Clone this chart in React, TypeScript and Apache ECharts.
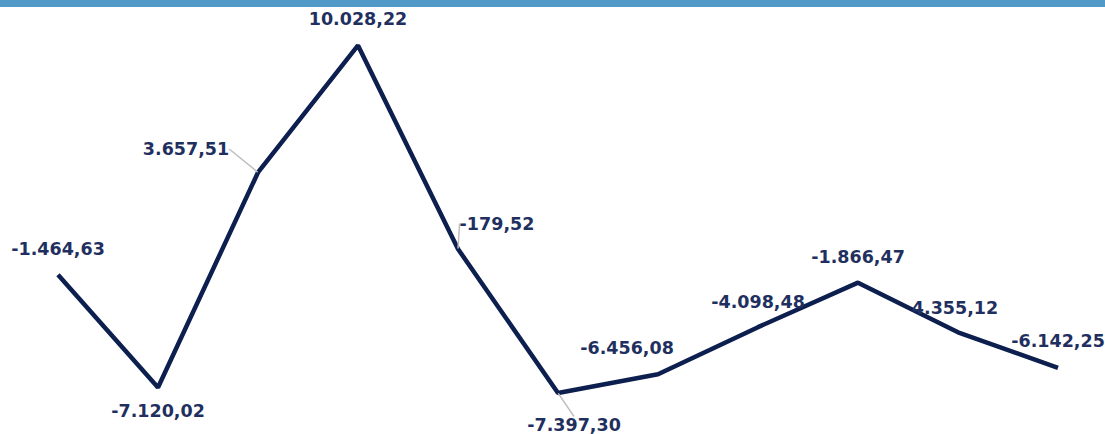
import React, { useEffect, useRef } from "react";
import * as echarts from "echarts";

const categories = ["1", "2", "3", "4", "5", "6", "7", "8", "9", "10", "11"];
const values = [-1464.63, -7120.02, 3657.51, 10028.22, -179.52, -7397.3, -6456.08, -4098.48, -1866.47, -4355.12, -6142.25];
const labelTexts = ["-1.464,63", "-7.120,02", "3.657,51", "10.028,22", "-179,52", "-7.397,30", "-6.456,08", "-4.098,48", "-1.866,47", "4.355,12", "-6.142,25"];
// label shifts relative to default placement [dx, dy]
const labelShifts: number[][] = [[0, 0], [0, 0], [-72, 2], [0, -1], [39, 0], [16, 0], [-31, -1], [0, 0], [0, 0], [-3, 1], [0, -1]];
const belowIdx = [1, 5];
const guideIdx = [2, 4, 5];

export default function App() {
  const ref = useRef<HTMLDivElement>(null);
  useEffect(() => {
    if (!ref.current) return;
    const chart = echarts.init(ref.current, undefined, { renderer: "svg" });
    const data = values.map((v, i) => ({
      value: v,
      label: belowIdx.includes(i)
        ? { position: "bottom" as const, distance: i === 5 ? 23 : 14 }
        : { position: "top" as const, distance: 16 },
      labelLine: { show: guideIdx.includes(i) },
    }));
    chart.setOption({
      animation: false,
      graphic: [
        { type: "rect", left: 0, top: 0, shape: { width: 1105, height: 7 }, style: { fill: "#5299c7" }, z: 10 },
      ],
      grid: { left: 58, right: 47, top: 26, bottom: 29, containLabel: false },
      xAxis: { type: "category", data: categories, boundaryGap: false, show: false },
      yAxis: { type: "value", min: -8000, max: 11000, show: false, splitLine: { show: false } },
      series: [
        {
          type: "line",
          data,
          symbol: "circle",
          symbolSize: 1,
          showSymbol: true,
          itemStyle: { color: "rgba(0,0,0,0)", borderWidth: 0 },
          lineStyle: { color: "#0d1f4f", width: 4.5 },
          label: {
            show: true,
            opacity: 1,
            color: "#1f3060",
            fontFamily: "DejaVu Sans",
            fontWeight: "bold",
            fontSize: 17.5,
            formatter: (p: any) => labelTexts[p.dataIndex],
          },
          labelLine: { show: false, lineStyle: { color: "#bfbfbf", width: 1.5 } },
          labelLayout: (p: any) => ({ dx: labelShifts[p.dataIndex][0], dy: labelShifts[p.dataIndex][1] }),
        },
      ],
    });
    return () => chart.dispose();
  }, []);
  return <div ref={ref} style={{ width: 1105, height: 434, position: "absolute", left: 0, top: 0 }} />;
}
